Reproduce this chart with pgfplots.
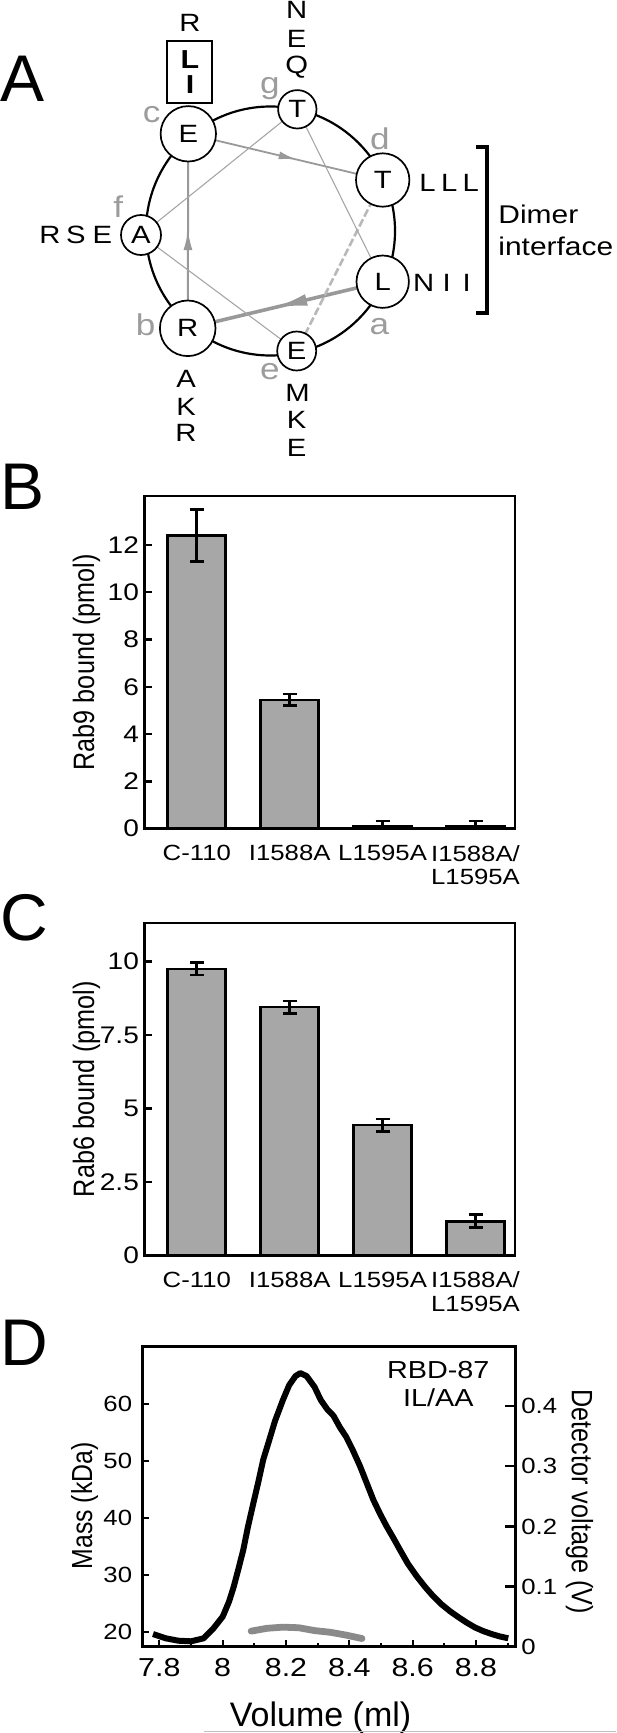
\documentclass[border=0pt]{standalone}
\usepackage{pgfplots}
\pgfplotsset{compat=1.18}
\usepackage{fontspec}
\setmainfont{Liberation Sans}[FakeStretch=1.17]
\newfontfamily\plainfont{Liberation Sans}
\usetikzlibrary{arrows.meta,decorations.markings}

\definecolor{barfill}{HTML}{A7A7A7}
\definecolor{lgray}{HTML}{999999}
\definecolor{tgray}{HTML}{A6A6A6}
\definecolor{posgray}{HTML}{9C9C9C}
\definecolor{massgray}{HTML}{8A8A8A}

\pgfplotsset{
  barpanel/.style={
    scale only axis, width=185.35pt,
    ybar, bar width=29pt, enlarge x limits=false,
    xmin=-0.565, xmax=3.425, ymin=0,
    xtick={0,1,2,3},
    xticklabels={C-110,I1588A,L1595A,{I1588A/\\L1595A}},
    xtick style={draw=none},
    tick align=inside, ytick pos=left,
    major tick length=4pt,
    axis line style={line width=1.4pt},
    ytick style={line width=1.2pt, black},
    xticklabel style={font=\fontsize{11}{11.85}\selectfont, align=center, inner sep=0pt, yshift=-8pt},
    yticklabel style={font=\fontsize{12}{13}\selectfont, inner sep=0pt, xshift=-2.5pt},
    /pgf/number format/assume math mode=true,
    ylabel style={at={(axis description cs:-0.156,0.5)}, anchor=center,
      font=\plainfont\fontsize{12.6}{14}\selectfont},
  },
  bars/.style={fill=barfill, draw=black, line width=1.3pt,
    error bars/.cd, y dir=both, y explicit,
    error bar style={line width=1.3pt, black},
    error mark options={rotate=90, line width=1.3pt, mark size=3.5pt, black}},
}
\tikzset{
  wres/.style={circle, draw, fill=white, line width=0.85pt, inner sep=0pt,
    font=\fontsize{12.5}{13}\selectfont},
  hpos/.style={text=posgray, inner sep=0pt, font=\fontsize{15}{16}\selectfont},
  aares/.style={inner sep=0pt, font=\fontsize{12.5}{13}\selectfont},
}

\begin{document}
\begin{tikzpicture}
\useasboundingbox (0,0) rectangle (308pt,-866.5pt);

% panel letters
\node[anchor=base west, inner sep=0pt, font=\plainfont\fontsize{33}{33}\selectfont] at (0pt,-51pt) {A};
\node[anchor=base west, inner sep=0pt, font=\plainfont\fontsize{33}{33}\selectfont] at (0pt,-254.5pt) {B};
\node[anchor=base west, inner sep=0pt, font=\plainfont\fontsize{33}{33}\selectfont] at (0pt,-470pt) {C};
\node[anchor=base west, inner sep=0pt, font=\plainfont\fontsize{33}{33}\selectfont] at (0pt,-682.5pt) {D};

% A: helical wheel, drawn in pixel units
\begin{axis}[at={(0pt,0pt)}, anchor=north west, scale only axis,
  width=308pt, height=250pt, xmin=0, xmax=616, ymin=0, ymax=500,
  y dir=reverse, hide axis, clip=false]
\node[circle, draw, line width=1.1pt, minimum size=124.5pt, inner sep=0pt] at (270.5,231) {};
% heptad path
\draw[lgray, line width=1.8pt, postaction={decorate},
  decoration={markings, mark=at position 0.561 with {\arrow{Latex[length=17pt,width=6pt]}}}]
  (382.7,281.7) -- (187.7,328.3);
\draw[lgray, line width=1pt, postaction={decorate},
  decoration={markings, mark=at position 0.505 with {\arrow{Latex[length=10pt,width=4.5pt]}}}]
  (187.7,328.3) -- (188.3,133.8);
\draw[lgray, line width=0.9pt, postaction={decorate},
  decoration={markings, mark=at position 0.558 with {\arrow{Latex[length=9pt,width=4pt]}}}]
  (188.3,133.8) -- (382.7,180);
\draw[tgray!80, line width=1.3pt, dash pattern=on 4pt off 1.5pt] (382.7,180) -- (296.7,351);
\draw[tgray, line width=0.55pt] (296.7,351) -- (141,235);
\draw[tgray, line width=0.55pt] (141,235) -- (297.3,109.3);
\draw[tgray, line width=0.55pt] (297.3,109.3) -- (382.7,281.7);
% residues
\node[wres, minimum size=27.7pt] at (188.3,133.8) {E};
\node[wres, minimum size=19.2pt] at (297.3,109.3) {T};
\node[wres, minimum size=26.7pt] at (382.7,180) {T};
\node[wres, minimum size=20pt] at (141,235) {A};
\node[wres, minimum size=26.2pt] at (382.7,281.7) {L};
\node[wres, minimum size=27.8pt] at (187.7,328.3) {R};
\node[wres, minimum size=19.5pt] at (296.7,351) {E};
% heptad positions
\node[hpos] at (151.7,115) {c};
\node[hpos] at (270,88.3) {g};
\node[hpos] at (380,138.3) {d};
\node[hpos] at (118.3,206.7) {f};
\node[hpos] at (379.3,326.7) {a};
\node[hpos] at (145.7,325) {b};
\node[hpos] at (270,371.7) {e};
% variants
\node[aares] at (190,23.3) {R};
\node[aares, font=\bfseries\fontsize{13}{13}\selectfont] at (190,60) {L};
\node[aares, font=\bfseries\fontsize{13}{13}\selectfont] at (190,85) {I};
\draw[line width=1.1pt] (166.7,40.7) rectangle (212,102.7);
\node[aares] at (296.7,10) {N};
\node[aares] at (296.7,39.3) {E};
\node[aares] at (296.7,66.7) {Q};
\node[aares] at (427.5,183.3) {L};
\node[aares] at (449.2,183.3) {L};
\node[aares] at (470.8,183.3) {L};
\node[aares] at (50,235) {R};
\node[aares] at (75.8,235) {S};
\node[aares] at (102.5,235) {E};
\node[aares] at (423.8,283.3) {N};
\node[aares] at (446.7,283.3) {I};
\node[aares] at (466.7,283.3) {I};
\node[aares] at (186,379.3) {A};
\node[aares] at (186,406.7) {K};
\node[aares] at (186,433.3) {R};
\node[aares] at (297.5,393.3) {M};
\node[aares] at (296.7,420) {K};
\node[aares] at (296.7,448.3) {E};
% dimer interface bracket
\draw[line width=2.2pt, line join=miter] (475.5,146.7) -- (487,146.7) -- (487,312.7) -- (475.5,312.7);
\node[anchor=base west, inner sep=0pt, font=\fontsize{12.8}{14}\selectfont] at (498,223.3) {Dimer};
\node[anchor=base west, inner sep=0pt, font=\fontsize{12.8}{14}\selectfont] at (498,255) {interface};
\end{axis}

% B: Rab9 binding
\begin{axis}[barpanel, at={(72.15pt,-414.35pt)}, anchor=south west,
  height=166.35pt, ymax=14.07, ytick={0,2,4,6,8,10,12},
  ylabel={\scalebox{1}[1.17]{Rab9 bound (pmol)}}]
\addplot[bars] coordinates {
  (0,12.4) +- (0,1.1)
  (1,5.45) +- (0,0.25)
  (2,0.12) +- (0,0.2)
  (3,0.12) +- (0,0.2)
};
\end{axis}

% C: Rab6 binding
\begin{axis}[barpanel, at={(72.15pt,-627.65pt)}, anchor=south west,
  height=166.15pt, ymax=11.31, ytick={0,2.5,5,7.5,10},
  yticklabels={0,2.5,5,7.5,10},
  ylabel={\scalebox{1}[1.17]{Rab6 bound (pmol)}}]
\addplot[bars] coordinates {
  (0,9.75) +- (0,0.21)
  (1,8.45) +- (0,0.21)
  (2,4.43) +- (0,0.21)
  (3,1.16) +- (0,0.22)
};
\end{axis}

% D: light scattering, mass (left axis)
\begin{axis}[scale only axis, at={(71.25pt,-823.35pt)}, anchor=south west,
  width=186.25pt, height=150.35pt,
  xmin=7.7467, xmax=8.9233, ymin=17.36, ymax=70.26,
  xtick={7.8,8,8.2,8.4,8.6,8.8}, xticklabels={7.8,8,8.2,8.4,8.6,8.8},
  minor xtick={7.9,8.1,8.3,8.5,8.7,8.9},
  ytick={20,30,40,50,60}, yticklabels={20,30,40,50,60},
  xtick pos=bottom, ytick pos=left, tick align=inside,
  major tick length=3.4pt, minor tick length=1.7pt,
  axis line style={line width=1.5pt},
  every tick/.style={black, line width=1.1pt},
  xticklabel style={font=\fontsize{13}{14}\selectfont, inner sep=0pt, yshift=-5.5pt},
  yticklabel style={font=\fontsize{11}{12}\selectfont, inner sep=0pt, xshift=-5pt},
  clip=false]
\addplot[massgray, line width=3.4pt, line cap=round] coordinates {
  (8.09,20.1) (8.14,20.6) (8.19,20.8) (8.24,20.7) (8.29,20.2)
  (8.34,19.9) (8.39,19.4) (8.44,18.8)
};
\node[rotate=90, font=\plainfont\fontsize{12.4}{14}\selectfont] at (axis description cs:-0.1557,0.4686) {\scalebox{1}[1.17]{Mass (kDa)}};
\node[rotate=-90, font=\plainfont\fontsize{12.6}{14}\selectfont] at (axis description cs:1.1734,0.4822) {\scalebox{1}[1.17]{Detector voltage (V)}};
\node[anchor=base, font=\plainfont\fontsize{17}{18}\selectfont] at (axis description cs:0.478,-0.266) {Volume (ml)};
\node[font=\fontsize{12.3}{14}\selectfont, inner sep=0pt] at (axis description cs:0.794,0.920) {RBD-87};
\node[font=\fontsize{12.3}{14}\selectfont, inner sep=0pt] at (axis description cs:0.794,0.827) {IL/AA};
\end{axis}

% D: detector voltage (right axis)
\begin{axis}[scale only axis, at={(71.25pt,-823.35pt)}, anchor=south west,
  width=186.25pt, height=150.35pt,
  xmin=7.7467, xmax=8.9233, ymin=0, ymax=0.5,
  axis x line=none, axis y line*=right, tick align=inside,
  ytick={0,0.1,0.2,0.3,0.4}, yticklabels={0,0.1,0.2,0.3,0.4},
  major tick length=5pt,
  axis line style={line width=1.5pt},
  every tick/.style={black, line width=1.1pt},
  yticklabel style={font=\fontsize{11}{12}\selectfont, inner sep=0pt, xshift=3pt}]
\addplot[black, line width=3pt, line join=round] coordinates {
  (7.78,0.021) (7.82,0.014) (7.86,0.010) (7.90,0.009) (7.94,0.014)
  (7.97,0.030) (8.00,0.050) (8.02,0.075) (8.035,0.100) (8.05,0.130)
  (8.065,0.161) (8.08,0.200) (8.097,0.239) (8.113,0.275) (8.128,0.311)
  (8.145,0.340) (8.165,0.375) (8.19,0.410) (8.21,0.435) (8.23,0.450)
  (8.245,0.455) (8.265,0.450) (8.29,0.432) (8.31,0.410) (8.33,0.395)
  (8.35,0.384) (8.37,0.365) (8.39,0.349) (8.41,0.328) (8.434,0.300)
  (8.455,0.272) (8.476,0.244) (8.497,0.221) (8.518,0.200) (8.54,0.180)
  (8.56,0.161) (8.585,0.138) (8.613,0.117) (8.64,0.099) (8.665,0.084)
  (8.69,0.071) (8.718,0.059) (8.745,0.049) (8.771,0.040) (8.797,0.032)
  (8.823,0.026) (8.85,0.021) (8.876,0.017) (8.902,0.014)
};
\end{axis}

\draw[black!25, line width=0.5pt] (102pt,-865.8pt) -- (308pt,-865.8pt);
\end{tikzpicture}
\end{document}
